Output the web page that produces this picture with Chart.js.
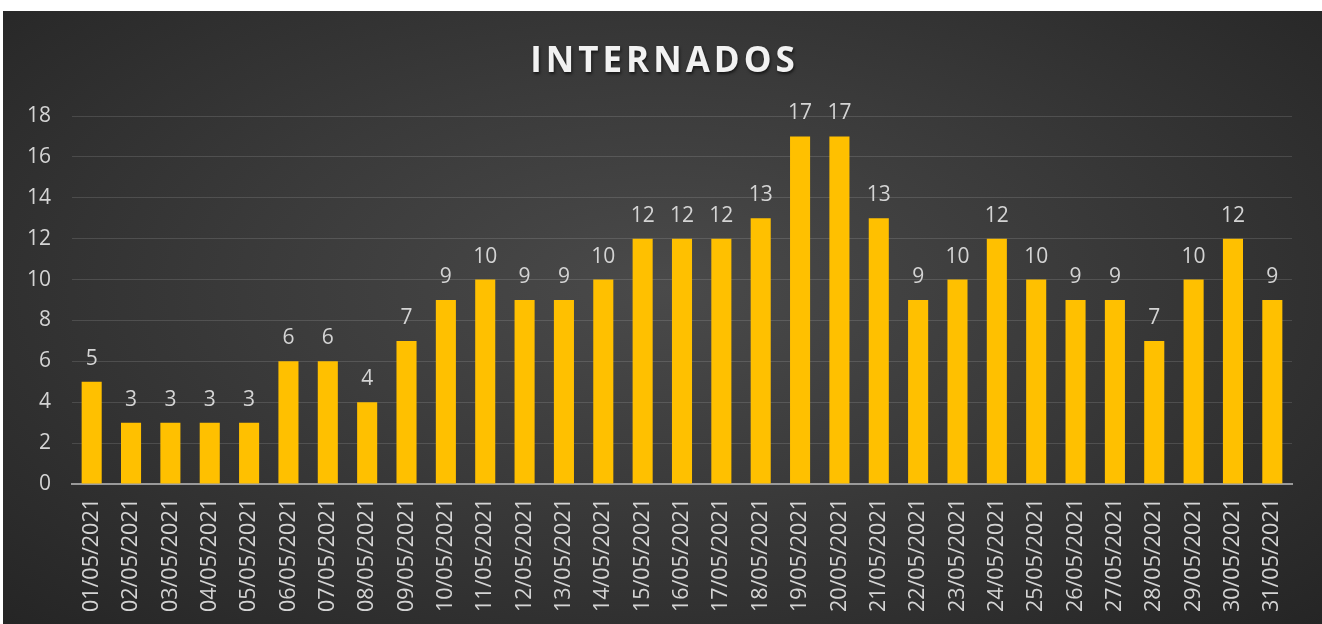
<!DOCTYPE html>
<html>
<head>
<meta charset="utf-8">
<script src="https://cdn.jsdelivr.net/npm/chart.js@4.4.0/dist/chart.umd.min.js"></script>
<style>
  body { margin: 0; background: #fff; }
  #box {
    position: absolute; left: 3px; top: 11px; width: 1319px; height: 613px;
    background: radial-gradient(ellipse at 50% 45%, #4a4a4a 0%, #3a3a3a 45%, #252525 100%);
  }
</style>
</head>
<body>
<div id="box"><canvas id="myChart" width="1319" height="613"></canvas></div>
<script>
const titulo = 'INTERNADOS'
const labels = ['01/05/2021','02/05/2021','03/05/2021','04/05/2021','05/05/2021','06/05/2021','07/05/2021','08/05/2021','09/05/2021','10/05/2021','11/05/2021','12/05/2021','13/05/2021','14/05/2021','15/05/2021','16/05/2021','17/05/2021','18/05/2021','19/05/2021','20/05/2021','21/05/2021','22/05/2021','23/05/2021','24/05/2021','25/05/2021','26/05/2021','27/05/2021','28/05/2021','29/05/2021','30/05/2021','31/05/2021']
const internados = [5,3,3,3,3,6,6,4,7,9,10,9,9,10,12,12,12,13,17,17,13,9,10,12,10,9,9,7,10,12,9]

const fonte = '"Open Sans", sans-serif'

// titulo e rotulos de valor desenhados a mao
const extras = {
  id: 'extras',
  afterDatasetsDraw(chart) {
    const c = chart.ctx
    const meta = chart.getDatasetMeta(0)
    c.save()
    c.fillStyle = '#d4d4d4'
    c.font = '21px ' + fonte
    c.textAlign = 'center'
    c.textBaseline = 'alphabetic'
    meta.data.forEach((bar, i) => {
      c.fillText(internados[i], bar.x, bar.y - 17)
    })
    c.restore()

    c.save()
    c.font = 'bold 35px ' + fonte
    c.letterSpacing = '4px'
    c.textAlign = 'center'
    c.textBaseline = 'alphabetic'
    c.shadowColor = 'rgba(0,0,0,0.6)'
    c.shadowOffsetX = 1
    c.shadowOffsetY = 2
    c.shadowBlur = 3
    c.fillStyle = '#f2f2f2'
    c.fillText(titulo, chart.width / 2 + 2, 61)
    c.restore()
  }
}

const ctx = document.getElementById('myChart')

const myChart = new Chart(ctx, {
  type: 'bar',
  data: {
    labels,
    datasets: [{
      data: internados,
      backgroundColor: '#ffc000',
      borderWidth: 0,
      categoryPercentage: 1,
      barPercentage: 0.51
    }]
  },
  options: {
    responsive: false,
    animation: false,
    layout: { padding: { left: 10, right: 30, top: 105, bottom: 4 } },
    plugins: {
      legend: { display: false },
      tooltip: { enabled: false }
    },
    scales: {
      x: {
        grid: { display: false, drawTicks: false },
        border: { color: '#9a9a9a', width: 2 },
        ticks: {
          color: '#d4d4d4',
          font: { family: fonte, size: 21.5 },
          minRotation: 90,
          maxRotation: 90,
          autoSkip: false,
          padding: 14
        },
        afterFit(axis) { axis.height = 136 }
      },
      y: {
        min: 0,
        max: 18,
        grid: { color: 'rgba(255,255,255,0.13)', drawTicks: false },
        border: { display: false },
        ticks: {
          stepSize: 2,
          color: '#d4d4d4',
          font: { family: fonte, size: 21 },
          padding: 21
        },
        afterFit(axis) { axis.width = 59 }
      }
    }
  },
  plugins: [extras]
})
</script>
</body>
</html>
